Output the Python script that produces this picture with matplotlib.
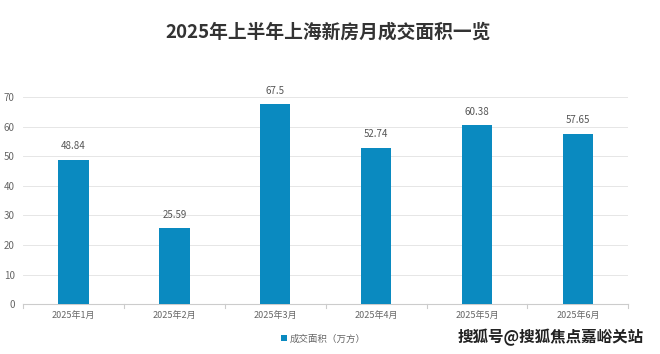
import matplotlib
matplotlib.use("Agg")
import matplotlib.pyplot as plt

plt.rcParams['font.family'] = ['Noto Sans CJK SC', 'DejaVu Sans']

categories = ["2025年1月", "2025年2月", "2025年3月", "2025年4月", "2025年5月", "2025年6月"]
values = [48.84, 25.59, 67.5, 52.74, 60.38, 57.65]
labels = ["48.84", "25.59", "67.5", "52.74", "60.38", "57.65"]
yticks = [0, 10, 20, 30, 40, 50, 60, 70]
title = "2025年上半年上海新房月成交面积一览"
series_name = "成交面积（万方）"
watermark = "搜狐号@搜狐焦点嘉峪关站"

fig = plt.figure(figsize=(6.6, 3.54), dpi=100)
ax = fig.add_axes([0.035, 0.141, 0.917, 0.585])
color = "#0A8AC0"
x = list(range(len(categories)))
bars = ax.bar(x, values, width=0.3, color=color, label=series_name, zorder=3)
for xi, v, lab in zip(x, values, labels):
    ax.text(xi, v + 3, lab, ha='center', va='bottom', fontsize=7, color='#555555')

ax.set_ylim(0, 70)
ax.set_xlim(-0.5, len(categories) - 0.5)
ax.set_yticks(yticks)
ax.set_yticklabels([str(t) for t in yticks], fontsize=7, color='#666666')
ax.set_xticks(x)
ax.set_xticklabels(categories, fontsize=6.5, color='#666666')
ax.tick_params(axis='y', length=0, pad=6)
ax.tick_params(axis='x', length=0, pad=5)
ax.grid(axis='y', color='#e6e6e6', linewidth=0.7, zorder=0)
for s in ['top', 'right', 'left']:
    ax.spines[s].set_visible(False)
ax.spines['bottom'].set_color('#cccccc')
ax.spines['bottom'].set_linewidth(0.8)
# category boundary ticks
for b in [i - 0.5 for i in range(len(categories) + 1)]:
    ax.plot([b, b], [0, -1.2], color='#cccccc', lw=0.8, clip_on=False)

fig.text(0.497, 0.91, title, ha='center', va='center', fontsize=13.5, fontweight='bold', color='#333333')

leg = fig.legend(handles=[bars], labels=[series_name], loc='center', bbox_to_anchor=(0.49, 0.043),
                 frameon=False, fontsize=6.8, handlelength=0.6, handleheight=0.6, handletextpad=0.3,
                 labelcolor='#666666')

fig.text(0.976, 0.048, watermark, ha='right', va='center', fontsize=11.2, fontweight='bold', color='#222222')

fig.savefig("out.png", dpi=100)
